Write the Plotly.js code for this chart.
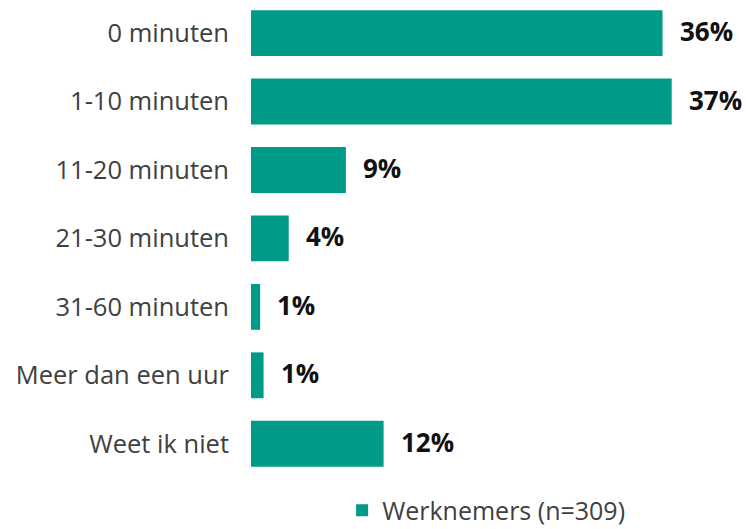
<!DOCTYPE html>
<html>
<head>
<meta charset="utf-8">
<script src="https://cdn.plot.ly/plotly-3.0.1.min.js"></script>
<style>html,body{margin:0;padding:0;background:#fff}#chart{width:746px;height:529px}</style>
</head>
<body>
<div id="chart"></div>
<script>
const categories = ["0 minuten", "1-10 minuten", "11-20 minuten", "21-30 minuten", "31-60 minuten", "Meer dan een uur", "Weet ik niet"];
const values = [36.0, 36.8, 8.3, 3.3, 0.8, 1.1, 11.6];
const valueLabels = ["36%", "37%", "9%", "4%", "1%", "1%", "12%"];
const seriesName = "Werknemers (n=309)";

const trace = {
  type: "bar",
  orientation: "h",
  y: categories,
  x: values,
  name: seriesName,
  marker: {color: "#009A88"},
  hoverinfo: "skip"
};

const annotations = categories.map((c, i) => ({
  x: values[i], y: c, xref: "x", yref: "y",
  text: valueLabels[i], showarrow: false,
  xanchor: "left", yanchor: "middle", xshift: 15, yshift: 2,
  font: {family: "Open Sans", size: 26, color: "#111111", weight: "bold"}
}));

const layout = {
  width: 746, height: 529,
  margin: {l: 251, r: 0, t: 0, b: 51, autoexpand: false},
  paper_bgcolor: "#ffffff", plot_bgcolor: "#ffffff",
  bargap: 0.33,
  showlegend: true,
  legend: {orientation: "h", x: 0.475, xanchor: "center", y: -0.068, yanchor: "middle",
           tracegroupgap: 0, itemwidth: 30,
           font: {family: "Open Sans", size: 25, color: "#404040"}},
  xaxis: {range: [0, 43.3], showgrid: false, zeroline: false, showticklabels: false, showline: false, fixedrange: true},
  yaxis: {type: "category", range: [6.5, -0.483], autorange: false, showgrid: false, zeroline: false,
          showline: false, ticks: "", ticklabelstandoff: 21,
          tickfont: {family: "Open Sans", size: 25.5, color: "#404040"}},
  annotations: annotations
};

Plotly.newPlot("chart", [trace], layout, {staticPlot: true, displayModeBar: false});
</script>
</body>
</html>
